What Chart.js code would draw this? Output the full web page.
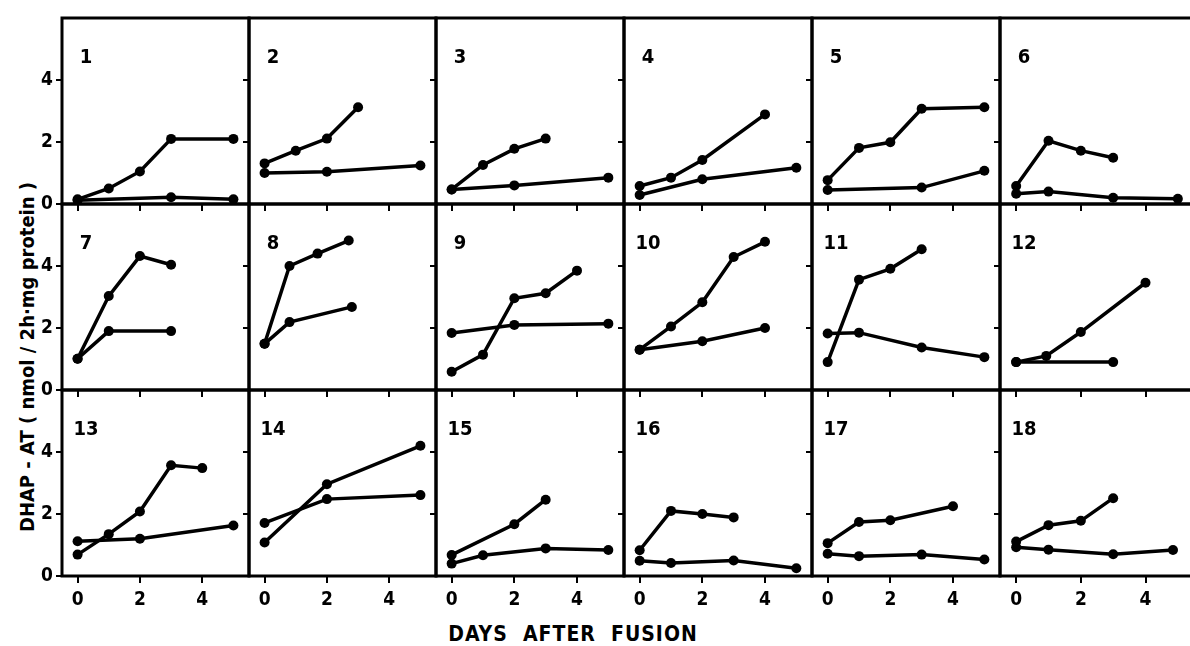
<!DOCTYPE html>
<html>
<head>
<meta charset="utf-8">
<script src="https://cdn.jsdelivr.net/npm/chart.js@4.4.0/dist/chart.umd.min.js"></script>
<style>
html,body{margin:0;padding:0;background:#fff;width:1190px;height:646px;overflow:hidden;}
#wrap{position:relative;width:1190px;height:646px;}
canvas{position:absolute;}
.ytitle{position:absolute;left:27px;top:357px;transform:translate(-50%,-50%) rotate(-90deg);font:bold 20px 'DejaVu Sans Condensed','Liberation Sans Narrow','DejaVu Sans',sans-serif;white-space:pre;color:#000;}
.xtitle{position:absolute;left:573px;top:634px;transform:translate(-50%,-50%);font:bold 21px 'DejaVu Sans Condensed','Liberation Sans Narrow','DejaVu Sans',sans-serif;letter-spacing:1px;white-space:pre;color:#000;}
</style>
</head>
<body>
<div id="wrap">
<div class="ytitle">DHAP - AT ( nmol / 2h·mg protein )</div>
<div class="xtitle">DAYS  AFTER  FUSION</div>
</div>
<script>
const panelNames = ['1','2','3','4','5','6','7','8','9','10','11','12','13','14','15','16','17','18'];
const xTicks = [0, 2, 4];
const yTicks = [0, 2, 4];

const upperDays = [
  [0,1,2,3,5],[0,1,2,3],[0,1,2,3],[0,1,2,4],[0,1,2,3,5],[0,1,2,3],
  [0,1,2,3],[0,0.8,1.7,2.7],[0,1,2,3,4],[0,1,2,3,4],[0,1,2,3],[0,0.93,2,4],
  [0,1,2,3,4],[0,2,5],[0,2,3],[0,1,2,3],[0,1,2,4],[0,1,2,3]
];
const upperValues = [
  [0.15,0.5,1.05,2.1,2.1],[1.31,1.72,2.11,3.12],[0.47,1.26,1.78,2.11],[0.58,0.85,1.42,2.89],[0.77,1.81,1.99,3.07,3.12],[0.58,2.04,1.72,1.49],
  [1.01,3.03,4.32,4.04],[1.49,4.0,4.4,4.82],[0.59,1.14,2.96,3.12,3.85],[1.3,2.05,2.83,4.29,4.78],[0.9,3.56,3.91,4.54],[0.9,1.1,1.87,3.46],
  [0.69,1.35,2.08,3.57,3.48],[1.08,2.96,4.2],[0.68,1.67,2.46],[0.83,2.1,2.0,1.89],[1.06,1.74,1.8,2.25],[1.11,1.64,1.78,2.51]
];
const lowerDays = [
  [0,3,5],[0,2,5],[0,2,5],[0,2,5],[0,3,5],[0,1,3,5],
  [0,1,3],[0,0.8,2.8],[0,2,5],[0,2,4],[0,1,3,5],[0,3],
  [0,2,5],[0,2,5],[0,1,3,5],[0,1,3,5],[0,1,3,5],[0,1,3,4.85]
];
const lowerValues = [
  [0.12,0.22,0.15],[1.0,1.04,1.24],[0.47,0.6,0.85],[0.29,0.8,1.17],[0.45,0.53,1.07],[0.33,0.4,0.2,0.17],
  [1.01,1.9,1.9],[1.49,2.19,2.68],[1.84,2.1,2.14],[1.3,1.57,2.0],[1.82,1.85,1.37,1.06],[0.9,0.9],
  [1.12,1.2,1.63],[1.71,2.48,2.61],[0.4,0.67,0.89,0.84],[0.49,0.42,0.5,0.25],[0.72,0.64,0.69,0.53],[0.93,0.85,0.7,0.84]
];

const FONT = "'DejaVu Sans Condensed','Liberation Sans Narrow','DejaVu Sans',sans-serif";
const colLefts = [62, 249, 436, 624, 812, 1000];
const colWidths = [187, 187, 188, 188, 188, 194];
const rowTops = [18, 204, 390];
const rowHeight = 186;
const ML = 62, MT = 10, MR = 10, MB = 45;

const framePlugin = {
  id: 'frame',
  beforeDatasetsDraw(chart, args, opts) {
    const a = chart.chartArea, ctx = chart.ctx;
    ctx.save();
    ctx.strokeStyle = '#000';
    ctx.lineWidth = 3;
    ctx.strokeRect(a.left, a.top, a.right - a.left, a.bottom - a.top);
    ctx.fillStyle = '#000';
    ctx.font = 'bold 20px ' + FONT;
    ctx.textAlign = 'center';
    ctx.textBaseline = 'middle';
    ctx.fillText(opts.label, a.left + 24, a.top + 40);
    ctx.restore();
  }
};

function zeroPad(s) { s.paddingTop = 0; s.paddingBottom = 0; s.paddingLeft = 0; s.paddingRight = 0; }

const wrap = document.getElementById('wrap');
panelNames.forEach((name, i) => {
  const r = Math.floor(i / 6), c = i % 6;
  const cv = document.createElement('canvas');
  const w = colWidths[c] + ML + MR, h = rowHeight + MT + MB;
  cv.width = w; cv.height = h;
  cv.style.width = w + 'px'; cv.style.height = h + 'px';
  cv.style.left = (colLefts[c] - ML) + 'px';
  cv.style.top = (rowTops[r] - MT) + 'px';
  wrap.appendChild(cv);
  const mk = (days, vals) => days.map((d, k) => ({x: d, y: vals[k]}));
  const ds = (pts) => ({
    data: pts, borderColor: '#000', borderWidth: 3.5, pointRadius: 5,
    pointBackgroundColor: '#000', pointBorderColor: '#000', pointBorderWidth: 0,
    tension: 0, showLine: true, clip: false
  });
  new Chart(cv, {
    type: 'line',
    data: { datasets: [ds(mk(upperDays[i], upperValues[i])), ds(mk(lowerDays[i], lowerValues[i]))] },
    options: {
      responsive: false, animation: false, devicePixelRatio: 1,
      layout: { padding: { left: 0, top: MT, right: MR, bottom: 0 }, autoPadding: false },
      plugins: { legend: { display: false }, tooltip: { enabled: false }, frame: { label: name } },
      scales: {
        x: {
          type: 'linear', min: -0.5, max: 5.5,
          afterBuildTicks: s => { s.ticks = xTicks.map(v => ({value: v})); },
          afterFit: s => { s.height = MB; zeroPad(s); },
          grid: { drawOnChartArea: false, drawTicks: true, tickLength: 7, color: '#000', lineWidth: 2 },
          border: { display: false },
          ticks: { display: r === 2, color: '#000', font: { family: FONT, size: 19, weight: 'bold' }, padding: 6, maxRotation: 0, autoSkip: false }
        },
        y: {
          type: 'linear', min: 0, max: 6,
          afterBuildTicks: s => { s.ticks = yTicks.map(v => ({value: v})); },
          afterFit: s => { s.width = ML; zeroPad(s); },
          grid: { drawOnChartArea: false, drawTicks: true, tickLength: 6, color: '#000', lineWidth: 2 },
          border: { display: false },
          ticks: { display: c === 0, color: '#000', font: { family: FONT, size: 19, weight: 'bold' }, padding: 3, autoSkip: false }
        }
      }
    },
    plugins: [framePlugin]
  });
});
</script>
</body>
</html>
